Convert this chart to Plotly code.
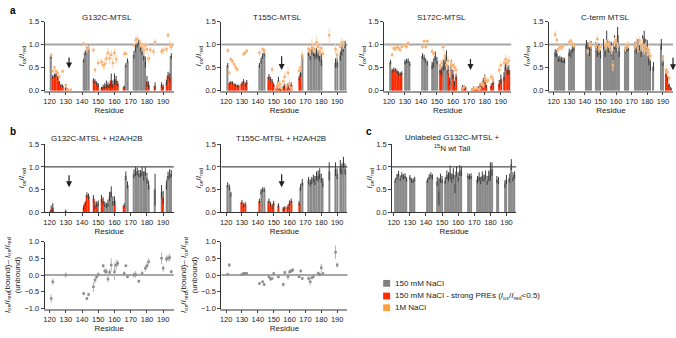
import plotly.graph_objects as go

# ---------------- data ----------------
RESIDUES = [121, 122, 123, 124, 125, 126, 127, 128,
            130, 131, 132, 133,
            141, 142, 143, 144,
            147, 148, 149, 150,
            152, 153, 154, 155, 156, 157, 158, 159, 160, 161, 162,
            166, 167, 168,
            172, 173, 174, 175, 176, 177, 178, 179, 180, 181, 182,
            184, 185,
            189, 190,
            192, 193, 194, 195]
X_TICKS = [120, 130, 140, 150, 160, 170, 180, 190]

# panel a : 150 mM NaCl (bars) and 1 M NaCl (points)
G132C_150 = [0.75, 0.30, 0.33, 0.35, 0.28, 0.18, 0.12, 0.10,
             0.05, 0.03, None, None,
             0.65, 0.82, 0.90, 0.93,
             0.22, 0.20, 0.16, 0.12,
             0.05, 0.08, 0.10, 0.14, 0.12, 0.10, 0.22, 0.14, 0.25, 0.22, 0.15,
             0.08, 0.55, 0.65,
             0.78, 0.92, 1.00, 1.05, 0.95, 0.85, 0.75, 0.62, 0.20, 0.12, None,
             None, 0.10,
             0.12, 0.08,
             0.18, 0.33, 0.28, 0.75]
G132C_150_ERR = [0.05, 0.04, 0.04, 0.04, 0.04, 0.03, 0.03, 0.03,
                 0.03, 0.02, None, None,
                 0.04, 0.05, 0.05, 0.06,
                 0.05, 0.05, 0.04, 0.04,
                 0.03, 0.05, 0.06, 0.08, 0.06, 0.05, 0.15, 0.08, 0.12, 0.10, 0.06,
                 0.03, 0.05, 0.05,
                 0.08, 0.08, 0.06, 0.06, 0.10, 0.08, 0.10, 0.12, 0.12, 0.08, None,
                 None, 0.08,
                 0.06, 0.05,
                 0.06, 0.08, 0.10, 0.06]
G132C_1M = [0.77, 0.42, 0.50, 0.42, 0.38, 0.30, None, 0.42,
            0.12, 0.02, None, 0.02,
            1.02, None, 0.88, 0.93,
            0.88, 0.45, None, 0.60,
            0.62, 0.55, 0.58, 0.70, 0.82, 0.70, 0.78, 0.60, 0.82, 0.68, None,
            0.80, 0.80, None,
            0.98, 1.10, 1.12, None, 1.02, 0.95, 0.88, 0.98, 0.90, 0.70, 0.88,
            0.85, 1.05,
            0.85, 0.88,
            0.90, 1.20, 1.00, 0.95]
G132C_1M_ERR = [0.04, 0.05, 0.05, 0.05, 0.05, 0.05, None, 0.04,
                0.04, 0.02, None, 0.02,
                0.04, None, 0.05, 0.05,
                0.05, 0.06, None, 0.08,
                0.08, 0.10, 0.12, 0.12, 0.10, 0.12, 0.10, 0.12, 0.10, 0.10, None,
                0.06, 0.06, None,
                0.05, 0.08, 0.10, None, 0.08, 0.10, 0.12, 0.10, 0.12, 0.10, 0.08,
                0.08, 0.08,
                0.08, 0.10,
                0.08, 0.06, 0.10, 0.08]

T155C_150 = [0.55, 0.15, 0.18, 0.17, 0.13, 0.12, 0.10, 0.10,
             0.15, 0.20, 0.13, 0.18,
             0.55, 0.65, 0.75, 0.82,
             0.30, 0.25, 0.20, 0.12,
             0.05, 0.22, 0.03, 0.03, 0.07, 0.10, 0.05, 0.10, 0.08, 0.12, None,
             0.27, 0.38, 0.75,
             0.85, 0.78, 0.90, 0.85, 0.80, 0.82, 0.78, 0.75, 0.68, None, None,
             None, None,
             0.60, 0.62,
             0.75, 0.88, 0.95, 1.00]
T155C_150_ERR = [0.05, 0.03, 0.03, 0.03, 0.03, 0.03, 0.03, 0.03,
                 0.04, 0.05, 0.04, 0.05,
                 0.05, 0.06, 0.06, 0.08,
                 0.06, 0.05, 0.05, 0.04,
                 0.03, 0.08, 0.02, 0.02, 0.05, 0.05, 0.03, 0.06, 0.05, 0.06, None,
                 0.05, 0.08, 0.05,
                 0.10, 0.12, 0.10, 0.10, 0.12, 0.10, 0.10, 0.12, 0.15, None, None,
                 None, None,
                 0.10, 0.12,
                 0.10, 0.12, 0.10, 0.08]
T155C_1M = [0.87, 0.39, 0.68, 0.64, 0.57, 0.50, 0.46, None,
            None, 0.79, 0.82, 0.86,
            0.82, None, 0.90, 0.86,
            None, None, 0.46, None,
            0.10, 0.12, 0.14, 0.05, 0.20, 0.30, 0.08, 0.39, 0.15, 0.05, None,
            0.43, 0.50, 0.77,
            0.90, 0.85, 1.00, 0.92, 0.88, 1.05, 0.95, 0.85, 0.92, 0.80, None,
            None, 1.20,
            0.90, 0.78,
            0.95, 1.05, 1.00, None]
T155C_1M_ERR = [0.05, 0.05, 0.06, 0.05, 0.05, 0.05, 0.05, None,
                None, 0.05, 0.05, 0.05,
                0.06, None, 0.06, 0.06,
                None, None, 0.06, None,
                0.08, 0.08, 0.08, 0.05, 0.10, 0.12, 0.06, 0.12, 0.10, 0.05, None,
                0.08, 0.10, 0.08,
                0.08, 0.10, 0.12, 0.10, 0.08, 0.12, 0.10, 0.10, 0.12, 0.10, None,
                None, 0.15,
                0.12, 0.10,
                0.10, 0.10, 0.10, None]

S172C_150 = [0.62, 0.43, 0.46, 0.45, 0.42, 0.38, 0.36, 0.38,
             0.62, 0.64, 0.65, 0.58,
             0.75, 0.72, 0.65, 0.60,
             0.55, 0.60, 0.75, 0.65,
             0.45, 0.42, 0.55, 0.60, 0.75, 0.45, 0.20, 0.55, 0.35, 0.15, 0.30,
             0.08, 0.08, 0.06,
             0.03, 0.05, 0.02, 0.04, 0.05, 0.10, 0.10, 0.20, 0.25, 0.12, None,
             0.10, 0.20,
             0.15, 0.25,
             0.30, 0.55, 0.45, 0.45]
S172C_150_ERR = [0.05, 0.04, 0.04, 0.04, 0.04, 0.04, 0.04, 0.04,
                 0.05, 0.05, 0.05, 0.05,
                 0.06, 0.06, 0.05, 0.05,
                 0.08, 0.10, 0.10, 0.08,
                 0.08, 0.10, 0.12, 0.15, 0.12, 0.10, 0.08, 0.12, 0.10, 0.06, 0.08,
                 0.04, 0.04, 0.03,
                 0.03, 0.04, 0.03, 0.03, 0.04, 0.06, 0.06, 0.08, 0.10, 0.06, None,
                 0.06, 0.08,
                 0.08, 0.10,
                 0.10, 0.12, 0.10, 0.10]
S172C_1M = [1.00, 0.78, 0.92, 0.90, 0.95, 0.92, 0.88, 0.95,
            0.98, 0.95, 1.03, None,
            0.95, 1.07, 0.95, 1.07,
            0.85, 0.80, None, None,
            0.55, 0.60, 0.95, 0.75, 0.55, 0.65, 0.40, 0.55, 0.55, 0.50, 0.45,
            0.05, 0.08, None,
            0.02, 0.04, 0.03, 0.06, 0.03, 0.05, 0.15, 0.12, 0.25, 0.20, 0.22,
            0.30, 0.25,
            0.45, 0.55,
            0.60, 0.68, 0.60, 0.65]
S172C_1M_ERR = [0.04, 0.05, 0.05, 0.05, 0.05, 0.05, 0.05, 0.05,
                0.05, 0.05, 0.05, None,
                0.05, 0.05, 0.05, 0.05,
                0.06, 0.06, None, None,
                0.10, 0.10, 0.10, 0.10, 0.10, 0.10, 0.10, 0.10, 0.10, 0.10, 0.10,
                0.03, 0.04, None,
                0.02, 0.03, 0.02, 0.04, 0.03, 0.04, 0.06, 0.06, 0.08, 0.08, 0.08,
                0.08, 0.08,
                0.10, 0.10,
                0.10, 0.10, 0.10, 0.10]

CTERM_150 = [0.82, 0.80, 0.68, 0.70, 0.67, 0.66, 0.65, None,
             0.83, 0.80, 0.90, 0.95,
             1.00, 0.95, 0.85, 0.98,
             0.95, 0.85, 0.90, 0.80,
             1.00, 0.85, 1.10, 0.95, 0.95, 0.90, 0.70, 1.05, 0.95, 1.20, 0.85,
             0.90, 0.92, 0.95,
             0.95, 0.90, 1.00, 1.00, 0.85, 1.05, 1.15, 1.00, 0.95, 0.70, 0.55,
             0.52, None,
             1.00, 0.65,
             0.38, 0.28, 0.12, 0.05]
CTERM_150_ERR = [0.08, 0.08, 0.06, 0.06, 0.06, 0.06, 0.06, None,
                 0.08, 0.08, 0.08, 0.08,
                 0.10, 0.10, 0.10, 0.10,
                 0.10, 0.12, 0.12, 0.10,
                 0.12, 0.12, 0.20, 0.12, 0.12, 0.15, 0.15, 0.15, 0.12, 0.18, 0.12,
                 0.08, 0.08, 0.08,
                 0.10, 0.10, 0.12, 0.12, 0.12, 0.15, 0.15, 0.12, 0.15, 0.15, 0.12,
                 0.10, None,
                 0.12, 0.12,
                 0.08, 0.06, 0.04, 0.03]
CTERM_1M = [1.22, 1.10, 0.90, 0.95, 0.92, 0.97, None, None,
            1.05, 1.08, 1.02, 0.98,
            None, 0.85, 1.02, 0.98,
            0.95, 1.12, 0.90, 0.95,
            None, 0.98, 1.00, 1.02, 0.95, 0.88, 0.55, 1.05, 1.10, 0.95, None,
            0.92, 0.98, 1.00,
            0.95, 1.05, 0.92, 1.08, 1.00, 0.98, 0.90, 0.95, 0.85, 0.88, 0.75,
            None, None,
            None, 0.70,
            0.45, 0.40, 0.28, None]
CTERM_1M_ERR = [0.08, 0.06, 0.06, 0.06, 0.06, 0.06, None, None,
                0.06, 0.06, 0.06, 0.06,
                None, 0.06, 0.08, 0.08,
                0.08, 0.10, 0.08, 0.08,
                None, 0.10, 0.10, 0.10, 0.10, 0.10, 0.12, 0.10, 0.10, 0.10, None,
                0.08, 0.08, 0.08,
                0.08, 0.10, 0.10, 0.10, 0.12, 0.15, 0.12, 0.10, 0.10, 0.12, 0.10,
                None, None,
                None, 0.08,
                0.10, 0.10, 0.10, None]

# panel b : with H2A/H2B
G132C_H2AB = [0.05, 0.10, None, None, None, None, None, None,
              0.03, None, None, None,
              0.10, 0.20, 0.38, 0.35,
              0.30, 0.15, 0.18, 0.20,
              0.30, 0.25, 0.18, 0.15, 0.20, 0.35, 0.45, 0.25, 0.25, None, None,
              0.15, 0.80, 0.60,
              0.85, 0.90, 0.90, 0.85, 0.85, 0.90, 0.80, 0.90, 0.75, 0.60, None,
              None, 0.50,
              0.45, 0.32,
              0.60, 0.80, 0.85, 0.85]
G132C_H2AB_ERR = [0.10, 0.10, None, None, None, None, None, None,
                  0.03, None, None, None,
                  0.05, 0.05, 0.06, 0.06,
                  0.08, 0.08, 0.06, 0.06,
                  0.08, 0.08, 0.06, 0.06, 0.08, 0.10, 0.12, 0.10, 0.10, None, None,
                  0.05, 0.10, 0.08,
                  0.10, 0.10, 0.08, 0.08, 0.08, 0.10, 0.10, 0.10, 0.12, 0.10, None,
                  None, 0.35,
                  0.15, 0.15,
                  0.10, 0.10, 0.10, 0.08]
G132C_H2AB_STRONG = [121, 122, 130, 141, 142, 143, 144, 147, 148, 149,
                     152, 153, 160, 161, 166, 190]

T155C_H2AB = [0.60, 0.55, 0.40, None, None, None, None, None,
              0.22, 0.15, 0.18, None,
              0.25, 0.45, 0.50, 0.50,
              0.25, 0.18, 0.12, 0.20,
              None, 0.15, None, None, 0.08, 0.10, None, 0.12, 0.20, 0.25, None,
              0.20, 0.55, 0.65,
              0.70, 0.65, 0.70, 0.75, 0.70, 0.80, 0.80, 0.85, 0.75, 0.65, None,
              None, 0.90,
              0.95, 0.85,
              1.00, 0.95, 1.10, 0.95]
T155C_H2AB_ERR = [0.06, 0.06, 0.05, None, None, None, None, None,
                  0.05, 0.05, 0.05, None,
                  0.05, 0.06, 0.05, 0.05,
                  0.05, 0.05, 0.05, 0.05,
                  None, 0.05, None, None, 0.04, 0.04, None, 0.05, 0.06, 0.05, None,
                  0.05, 0.08, 0.08,
                  0.08, 0.08, 0.08, 0.08, 0.10, 0.10, 0.12, 0.12, 0.10, 0.10, None,
                  None, 0.20,
                  0.15, 0.12,
                  0.15, 0.12, 0.12, 0.12]
T155C_H2AB_STRONG = [130, 131, 132, 141, 147, 148, 149, 150, 153, 156, 157,
                     159, 160, 161, 166]

# panel c : unlabeled G132C-MTSL + 15N wt tail
UNLAB = [0.70, 0.78, 0.85, 0.75, 0.82, 0.78, 0.80, 0.72,
         0.77, 0.70, 0.70, 0.73,
         0.70, 0.78, 0.82, 0.78,
         0.68, 0.45, 0.75, 0.72,
         0.70, 0.82, 0.78, 0.88, 0.75, 0.85, 0.62, 0.90, 0.78, 0.92, 0.90,
         0.80, 0.78, 0.80,
         0.72, 0.78, 0.70, 0.80, 0.75, 0.82, 0.70, 0.80, 0.90, 0.95, None,
         0.72, 0.70,
         0.62, 0.72,
         0.75, 1.05, 0.78, 0.82]
UNLAB_ERR = [0.05, 0.06, 0.06, 0.06, 0.06, 0.06, 0.06, 0.05,
             0.05, 0.05, 0.05, 0.05,
             0.05, 0.06, 0.06, 0.06,
             0.10, 0.30, 0.10, 0.08,
             0.08, 0.10, 0.10, 0.15, 0.10, 0.12, 0.20, 0.12, 0.10, 0.12, 0.10,
             0.06, 0.06, 0.06,
             0.08, 0.10, 0.08, 0.10, 0.08, 0.10, 0.10, 0.12, 0.20, 0.15, None,
             0.08, 0.08,
             0.08, 0.10,
             0.10, 0.12, 0.10, 0.08]

# bound - unbound differences
G132C_DIFF = [-0.70, -0.20, None, None, None, None, None, None,
              0.00, None, None, None,
              -0.55, None, -0.70, -0.58,
              -0.35, -0.15, -0.05, 0.02,
              None, 0.28, 0.12, 0.10, -0.12, 0.08, 0.30, None, 0.10, 0.30, 0.35,
              0.05, 0.28, -0.05,
              0.00, 0.02, None, -0.18, None, 0.05, None, 0.20, 0.28, 0.40, None,
              None, None,
              0.50, 0.20,
              0.48, 0.50, 0.52, 0.10]
G132C_DIFF_ERR = [0.12, 0.10, None, None, None, None, None, None,
                  0.08, None, None, None,
                  0.05, None, 0.05, 0.05,
                  0.15, 0.10, 0.08, 0.06,
                  None, 0.06, 0.08, 0.10, 0.10, 0.10, 0.20, None, 0.25, 0.15, 0.10,
                  0.06, 0.04, 0.05,
                  0.08, 0.10, None, 0.05, None, 0.08, None, 0.10, 0.10, 0.10, None,
                  None, None,
                  0.18, 0.10,
                  0.10, 0.10, 0.12, 0.05]
T155C_DIFF = [0.02, 0.30, None, None, None, None, None, None,
              0.02, 0.05, 0.05, 0.05,
              -0.25, None, -0.20, -0.28,
              -0.05, -0.12, -0.10, 0.05,
              None, -0.05, None, None, -0.28, 0.08, None, -0.05, 0.10, 0.12, 0.15,
              -0.05, 0.12, -0.10,
              -0.10, -0.20, -0.08, -0.05, None, None, 0.05, 0.02, 0.22, 0.05, None,
              None, None,
              0.68, 0.30,
              None, None, None, None]
T155C_DIFF_ERR = [0.05, 0.06, None, None, None, None, None, None,
                  0.04, 0.04, 0.04, 0.04,
                  0.04, None, 0.04, 0.04,
                  0.06, 0.06, 0.05, 0.05,
                  None, 0.06, None, None, 0.06, 0.06, None, 0.10, 0.06, 0.06, 0.06,
                  0.04, 0.04, 0.04,
                  0.06, 0.10, 0.04, 0.04, None, None, 0.06, 0.06, 0.12, 0.05, None,
                  None, None,
                  0.20, 0.08,
                  None, None, None, None]

# ---------------- styling ----------------
W, H = 676, 338
FONT = "Liberation Sans, Arial, sans-serif"
GRAY = "#8a8a8a"
RED = "#ff2a00"
ORANGE = "#f9b274"
ORANGE_ERR = "#fdd6b0"
ERRC = "#3a3a3a"

# pixel boxes (left, right, top, bottom)
BOXES = {
    1: (40, 170, 18, 89), 2: (218, 345, 18, 89), 3: (382, 510, 18, 89), 4: (548, 673, 18, 89),
    5: (40, 170, 144, 214), 6: (218, 345, 144, 214), 7: (390, 515, 144, 214),
    8: (40, 170, 244, 313), 9: (218, 345, 244, 313),
}

fig = go.Figure()


def sfx(k):
    return "" if k == 1 else str(k)


def add_bars(k, vals, errs, strong=None):
    gx, gy, ge, rx, ry, re_ = [], [], [], [], [], []
    for r, v, e in zip(RESIDUES, vals, errs):
        if v is None:
            continue
        is_red = (v < 0.5) if strong is None else (r in strong)
        if is_red:
            rx.append(r); ry.append(v); re_.append(e or 0)
        else:
            gx.append(r); gy.append(v); ge.append(e or 0)
    for xs, ys, es, col in ((gx, gy, ge, GRAY), (rx, ry, re_, RED)):
        if not xs:
            continue
        fig.add_trace(go.Bar(
            x=xs, y=ys, width=0.8,
            marker=dict(color=col, line=dict(width=0)),
            error_y=dict(type="data", array=es, color=ERRC, thickness=1, width=0),
            xaxis="x" + sfx(k), yaxis="y" + sfx(k), showlegend=False, hoverinfo="skip",
            cliponaxis=False))


def add_points(k, vals, errs, color, ecolor, size, symbol):
    xs, ys, es = [], [], []
    for r, v, e in zip(RESIDUES, vals, errs):
        if v is None:
            continue
        xs.append(r); ys.append(v); es.append(e or 0)
    fig.add_trace(go.Scatter(
        x=xs, y=ys, mode="markers",
        marker=dict(color=color, size=size, symbol=symbol, line=dict(width=0)),
        error_y=dict(type="data", array=es, color=ecolor, thickness=1, width=0),
        xaxis="x" + sfx(k), yaxis="y" + sfx(k), showlegend=False, hoverinfo="skip"))


add_bars(1, G132C_150, G132C_150_ERR)
add_points(1, G132C_1M, G132C_1M_ERR, ORANGE, ORANGE_ERR, 2.5, "square")
add_bars(2, T155C_150, T155C_150_ERR)
add_points(2, T155C_1M, T155C_1M_ERR, ORANGE, ORANGE_ERR, 2.5, "square")
add_bars(3, S172C_150, S172C_150_ERR)
add_points(3, S172C_1M, S172C_1M_ERR, ORANGE, ORANGE_ERR, 2.5, "square")
add_bars(4, CTERM_150, CTERM_150_ERR)
add_points(4, CTERM_1M, CTERM_1M_ERR, ORANGE, ORANGE_ERR, 2.5, "square")
add_bars(5, G132C_H2AB, G132C_H2AB_ERR, set(G132C_H2AB_STRONG))
add_bars(6, T155C_H2AB, T155C_H2AB_ERR, set(T155C_H2AB_STRONG))
add_bars(7, UNLAB, UNLAB_ERR, set())
add_points(8, G132C_DIFF, G132C_DIFF_ERR, "#8c8c8c", "#b5b5b5", 2.5, "square")
add_points(9, T155C_DIFF, T155C_DIFF_ERR, "#8c8c8c", "#b5b5b5", 2.5, "square")

IOX = "<i>I</i><sub>ox</sub>/<i>I</i><sub>red</sub>"
DIFF_TITLE = IOX + "(bound)\u2013 " + IOX + "<br>(unbound)"

layout = dict(
    width=W, height=H, margin=dict(l=0, r=0, t=0, b=0),
    paper_bgcolor="white", plot_bgcolor="white",
    font=dict(family=FONT, size=8, color="#222"),
    barmode="overlay", showlegend=False,
)

for k, (l, r, t, b) in BOXES.items():
    diff = k >= 8
    rowb = k in (5, 6, 7)
    xr = [119, 196] if k == 7 else [117, 196.5]
    layout["xaxis" + sfx(k)] = dict(
        domain=[l / W, r / W], range=xr, anchor="y" + sfx(k),
        tickvals=X_TICKS, ticks="outside", ticklen=3, tickwidth=1, tickcolor="#444",
        showline=True, linecolor=("#333" if rowb else "#9a9a9a"), linewidth=(1 if rowb else 1.5),
        showgrid=False, zeroline=False, tickfont=dict(size=7.5),
        title=dict(text="Residue", font=dict(size=8), standoff=0),
    )
    layout["yaxis" + sfx(k)] = dict(
        domain=[1 - b / H, 1 - t / H], anchor="x" + sfx(k),
        range=[-1, 1] if diff else [0, 1.5],
        tickvals=[-1, -0.5, 0, 0.5, 1] if diff else [0, 0.5, 1, 1.5],
        tickformat=".1f", ticks="outside", ticklen=3, tickwidth=1, tickcolor="#444",
        showline=True, linecolor="#333", linewidth=1,
        showgrid=False, zeroline=False, tickfont=dict(size=7.5),
        title=dict(text=DIFF_TITLE if diff else IOX, font=dict(size=8), standoff=2),
    )

shapes = []
for k in (1, 2, 3, 4):
    shapes.append(dict(type="line", xref="x%s domain" % sfx(k), yref="y" + sfx(k),
                       x0=0, x1=1, y0=1, y1=1, line=dict(color="#a6a6a6", width=2), layer="below"))
for k in (5, 6, 7):
    shapes.append(dict(type="line", xref="x%s domain" % sfx(k), yref="y" + sfx(k),
                       x0=0, x1=1, y0=1, y1=1, line=dict(color="#222", width=1), layer="below"))
for k in (8, 9):
    shapes.append(dict(type="line", xref="x%s domain" % sfx(k), yref="y" + sfx(k),
                       x0=0, x1=1, y0=0, y1=0, line=dict(color="#a6a6a6", width=2), layer="below"))

# legend swatches
LEG = [("150 mM NaCl", "#7f7f7f", 287),
       ("150 mM NaCl - strong PREs (" + "<i>I</i><sub>ox</sub>/<i>I</i><sub>red</sub>&lt;0.5)", RED, 300),
       ("1M NaCl", "#ffa040", 312)]
annotations = []
for text, col, yc in LEG:
    shapes.append(dict(type="rect", xref="paper", yref="paper",
                       x0=381 / W, x1=388 / W, y0=1 - (yc + 3.5) / H, y1=1 - (yc - 3.5) / H,
                       fillcolor=col, line=dict(width=0)))
    annotations.append(dict(text=text, xref="paper", yref="paper", x=391 / W, y=1 - yc / H,
                            xanchor="left", yanchor="middle", showarrow=False,
                            font=dict(size=8)))

# panel titles
TITLES = [("G132C-MTSL", 103, 14), ("T155C-MTSL", 275, 14), ("S172C-MTSL", 440, 14),
          ("C-term MTSL", 605, 14), ("G132C-MTSL + H2A/H2B", 93, 138),
          ("T155C-MTSL + H2A/H2B", 278, 138), ("Unlabeled G132C-MTSL +", 451, 137),
          ("<sup>15</sup>N wt Tail", 451, 148)]
for text, xc, yc in TITLES:
    annotations.append(dict(text=text, xref="paper", yref="paper", x=xc / W, y=1 - yc / H,
                            xanchor="center", yanchor="middle", showarrow=False,
                            font=dict(size=8)))

for text, xc, yc in (("a", 3, 7), ("b", 3, 131), ("c", 362, 131)):
    annotations.append(dict(text="<b>%s</b>" % text, xref="paper", yref="paper", x=xc / W,
                            y=1 - yc / H, xanchor="left", yanchor="middle", showarrow=False,
                            font=dict(size=10, color="black")))

# spin-label position arrows
for k, res, head, tail in ((1, 132, 0.48, 0.75), (2, 155, 0.45, 0.78), (3, 171, 0.45, 0.72),
                           (5, 132, 0.55, 0.85), (6, 155, 0.55, 0.87)):
    annotations.append(dict(x=res, y=head, ax=res, ay=tail, xref="x" + sfx(k), yref="y" + sfx(k),
                            axref="x" + sfx(k), ayref="y" + sfx(k), text="", showarrow=True,
                            arrowhead=2, arrowsize=1, arrowwidth=1.2, arrowcolor="#222"))
annotations.append(dict(x=673 / W, y=1 - 68 / H, xref="paper", yref="paper", ax=0, ay=-14,
                        axref="pixel", ayref="pixel", text="", showarrow=True,
                        arrowhead=2, arrowsize=1, arrowwidth=1.2, arrowcolor="#222"))

layout["shapes"] = shapes
layout["annotations"] = annotations
fig.update_layout(**layout)
fig.write_html("out.html",
               config={"displayModeBar": False},
               post_script="document.body.style.margin='0px';document.body.style.overflow='hidden';")
